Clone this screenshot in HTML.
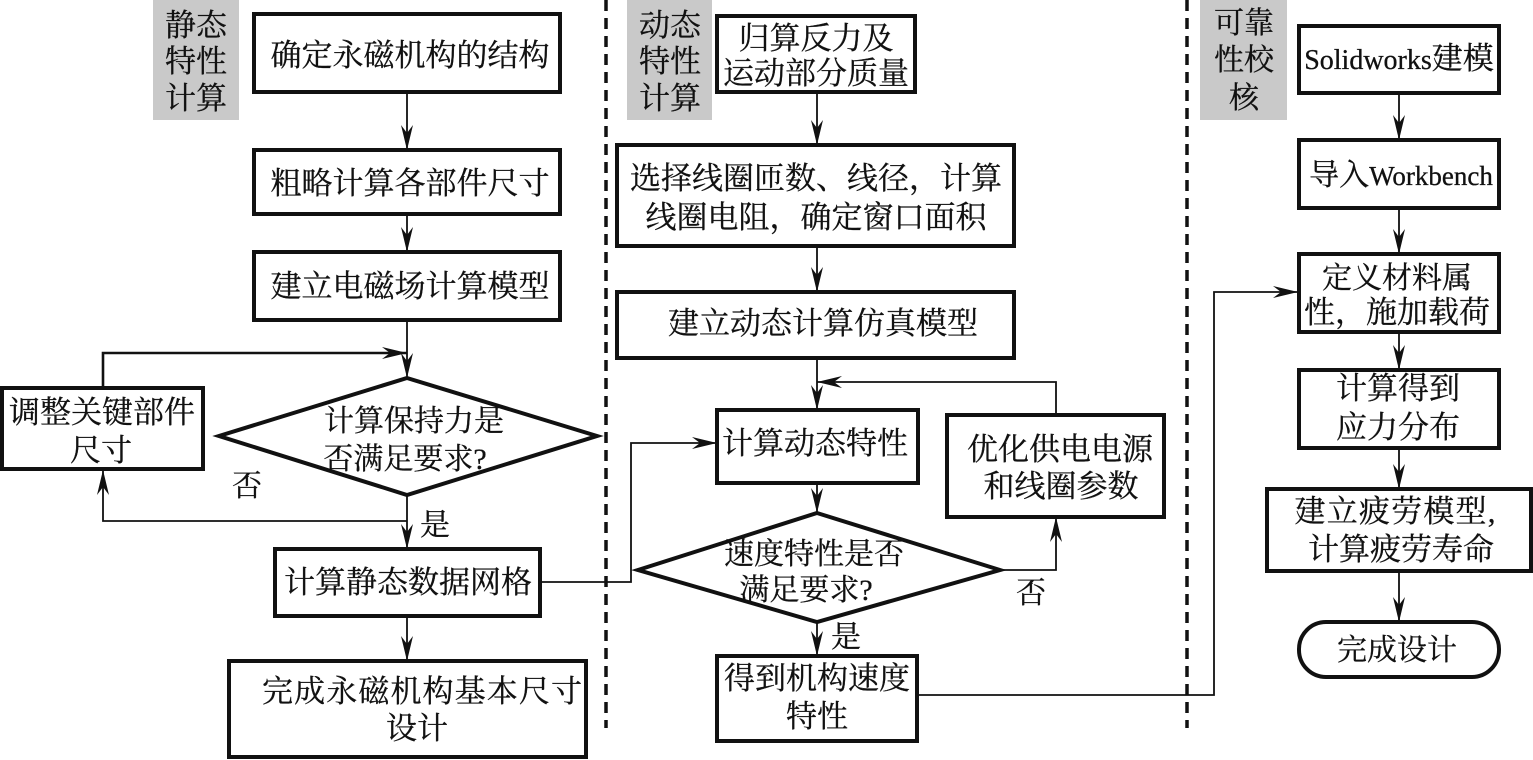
<!DOCTYPE html>
<html>
<head>
<meta charset="utf-8">
<style>
html,body{margin:0;padding:0;background:#fff;width:1533px;height:760px;overflow:hidden}
svg{display:block}
text{font-family:"Liberation Serif","Noto Serif CJK SC",serif;font-size:31px;fill:#111;stroke:#111;stroke-width:.3;text-anchor:middle}
.s{font-size:30px}
.b{fill:#fff;stroke:#111;stroke-width:4}
.l{fill:none;stroke:#111;stroke-width:1.8}
.t{fill:none;stroke:#111;stroke-width:2.6}
.d{fill:none;stroke:#111;stroke-width:3.5;stroke-dasharray:11 7}
.a{fill:#111;stroke:none}
</style>
</head>
<body>
<svg width="1533" height="760" viewBox="0 0 1533 760" xmlns="http://www.w3.org/2000/svg">
<rect x="153" y="0" width="86" height="120" fill="#c9c9c9"/>
<rect x="627" y="0" width="85" height="120" fill="#c9c9c9"/>
<rect x="1200" y="0" width="87" height="120" fill="#c9c9c9"/>
<line class="d" x1="606" y1="0" x2="606" y2="728"/>
<line class="d" x1="1187" y1="0" x2="1187" y2="728"/>

<path class="l" d="M407 92V150M407 214V252M407 320V378M407 495V549M407 616V661"/>
<path class="t" d="M407 353H103V388"/>
<path class="l" d="M103 469V521H407"/>
<path class="l" d="M540 582H631V443H717"/>
<path class="l" d="M817 92V145M817 246V292M817 358V410M817 483V513M817 622V656"/>
<path class="l" d="M817 382H1056V415M1000 570H1056V517"/>
<path class="l" d="M917 695H1214V292H1298"/>
<path class="l" d="M1399 93V140M1399 208V254M1399 332V370M1399 448V489M1399 571V622"/>

<path class="a" d="M407 150l-6-25 6 8 6-8zM407 252l-6-25 6 8 6-8zM407 378l-6-25 6 8 6-8zM407 549l-6-25 6 8 6-8zM407 661l-6-25 6 8 6-8z"/>
<path class="a" d="M407 353l-25-6 8 6-8 6zM103 470l-6 25 6-8 6 8z"/>
<path class="a" d="M717 443l-25-6 8 6-8 6zM817 145l-6-25 6 8 6-8zM817 292l-6-25 6 8 6-8zM817 410l-6-25 6 8 6-8zM817 513l-6-25 6 8 6-8zM817 656l-6-25 6 8 6-8z"/>
<path class="a" d="M817 382l25-6-8 6 8 6zM1056 517l-6 25 6-8 6 8zM1298 292l-25-6 8 6-8 6z"/>
<path class="a" d="M1399 140l-6-25 6 8 6-8zM1399 254l-6-25 6 8 6-8zM1399 370l-6-25 6 8 6-8zM1399 489l-6-25 6 8 6-8zM1399 622l-6-25 6 8 6-8z"/>

<rect class="b" x="254" y="14" width="306" height="78"/>
<rect class="b" x="254" y="150" width="306" height="64"/>
<rect class="b" x="254" y="252" width="306" height="68"/>
<rect class="b" x="2" y="388" width="201" height="81"/>
<polygon class="b" points="407,378 597,436 407,495 219,436"/>
<rect class="b" x="275" y="549" width="265" height="67"/>
<rect class="b" x="229" y="661" width="357" height="96"/>

<rect class="b" x="717" y="16" width="198" height="76"/>
<rect class="b" x="617" y="145" width="397" height="101"/>
<rect class="b" x="617" y="292" width="397" height="66"/>
<rect class="b" x="717" y="410" width="201" height="73"/>
<rect class="b" x="947" y="415" width="217" height="102"/>
<polygon class="b" points="817,513 1000,570 817,622 638,570"/>
<rect class="b" x="717" y="656" width="200" height="85"/>

<rect class="b" x="1299" y="26" width="200" height="67"/>
<rect class="b" x="1299" y="140" width="200" height="68"/>
<rect class="b" x="1299" y="254" width="200" height="78"/>
<rect class="b" x="1299" y="370" width="200" height="78"/>
<rect class="b" x="1267" y="489" width="264" height="82"/>
<rect class="b" x="1299" y="622" width="200" height="55" rx="27" ry="27"/>

<text x="196" y="36">静态</text><text x="196" y="72">特性</text><text x="196" y="109">计算</text>
<text x="670" y="36">动态</text><text x="670" y="72">特性</text><text x="670" y="109">计算</text>
<text class="s" x="1244" y="33">可靠</text><text class="s" x="1244" y="70">性校</text><text class="s" x="1244" y="108">核</text>

<text x="410" y="66">确定永磁机构的结构</text>
<text x="410" y="194">粗略计算各部件尺寸</text>
<text x="410" y="297">建立电磁场计算模型</text>
<text x="102" y="423">调整关键部件</text><text x="101" y="461">尺寸</text>
<text class="s" x="414" y="431">计算保持力是</text><text class="s" x="405" y="469">否满足要求?</text>
<text class="s" x="247" y="496">否</text><text class="s" x="435" y="535">是</text>
<text x="408" y="593">计算静态数据网格</text>
<text x="422" y="702" textLength="320">完成永磁机构基本尺寸</text><text x="417" y="739">设计</text>

<text x="816" y="49">归算反力及</text><text x="816" y="84">运动部分质量</text>
<text x="816" y="189">选择线圈匝数、线径，计算</text><text x="816" y="228">线圈电阻，确定窗口面积</text>
<text x="823" y="334">建立动态计算仿真模型</text>
<text x="815" y="454">计算动态特性</text>
<text x="1060" y="460">优化供电电源</text><text x="1061" y="497">和线圈参数</text>
<text class="s" x="814" y="564">速度特性是否</text><text class="s" x="806" y="600">满足要求?</text>
<text class="s" x="1031" y="603">否</text><text class="s" x="846" y="647">是</text>
<text x="817" y="689">得到机构速度</text><text x="817" y="727">特性</text>

<text x="1399" y="69"><tspan font-size="28">Solidworks</tspan>建模</text>
<text x="1401" y="185"><tspan font-size="30">导入</tspan><tspan font-size="27">Workbench</tspan></text>
<text class="s" x="1397" y="288">定义材料属</text><text x="1397" y="323">性，施加载荷</text>
<text x="1398" y="399">计算得到</text><text x="1398" y="438">应力分布</text>
<text x="1395" y="522" textLength="201">建立疲劳模型,</text><text x="1401" y="560">计算疲劳寿命</text>
<text class="s" x="1397" y="660">完成设计</text>
</svg>
</body>
</html>
